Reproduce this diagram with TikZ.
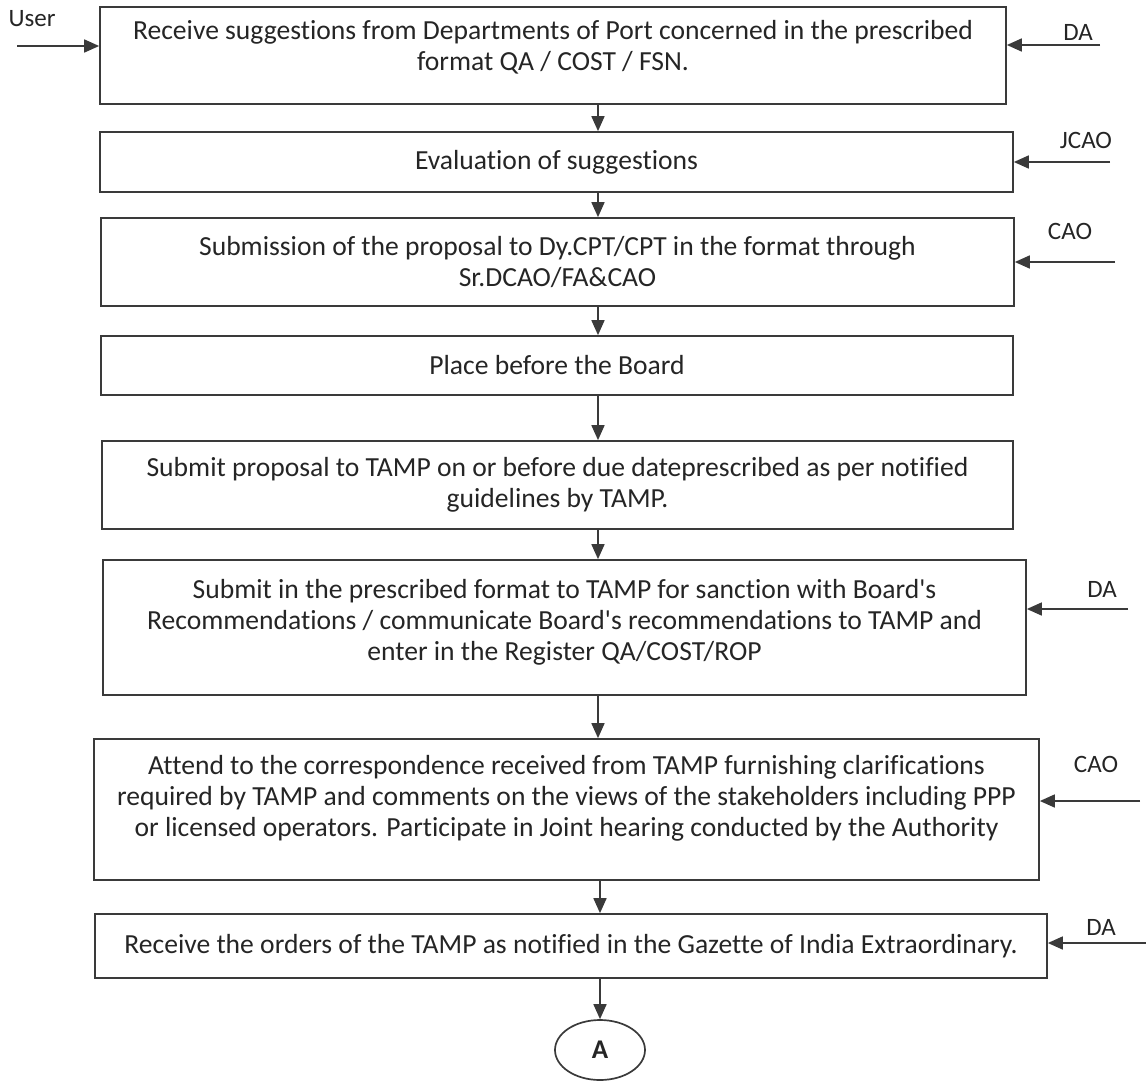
\documentclass[tikz,border=0pt]{standalone}
\usepackage{fontspec}
\setmainfont{Carlito}[Ligatures={TeX,NoCommon}]
\usetikzlibrary{shapes.geometric, arrows.meta}

\definecolor{boxgray}{HTML}{3A3A3A}
\definecolor{txtgray}{HTML}{252525}

% extra depth under the last line, pushes the text up in its box
\newcommand{\liftby}[1]{\rule[-#1]{0pt}{#1}}

\tikzset{
	stepbox/.style={draw=boxgray, line width=1.7pt, rectangle, align=center,
		inner sep=0pt, text=txtgray},
	flow/.style={draw=boxgray, line width=1.7pt, -{Triangle[length=15pt, width=13pt]}},
	who/.style={text=txtgray, font=\fontsize{25}{30}\selectfont},
}

\begin{document}
\begin{tikzpicture}[x=1pt, y=-1pt, font=\fontsize{27.6}{31}\selectfont]
	\def \ax {598}
	\useasboundingbox (0,0) rectangle (1146,1082);

	\node[stepbox, minimum width=906pt, minimum height=97pt] (receive) at (553,55.5)
		{Receive suggestions from Departments of Port concerned in the prescribed\\
		format QA / COST / FSN.\liftby{20pt}};
	\node[stepbox, minimum width=913pt, minimum height=60pt] (evaluate) at (556.5,162)
		{Evaluation of suggestions};
	\node[stepbox, minimum width=913pt, minimum height=88pt] (submission) at (557.5,262)
		{Submission of the proposal to Dy.CPT/CPT in the format through\\
		Sr.DCAO/FA\&CAO};
	\node[stepbox, minimum width=912pt, minimum height=59pt] (board) at (557,365.5)
		{Place before the Board};
	\node[stepbox, minimum width=911pt, minimum height=88pt] (proposal) at (557.5,485)
		{Submit proposal to TAMP on or before due dateprescribed as per notified\\
		guidelines by TAMP.};
	\node[stepbox, minimum width=923pt, minimum height=135pt] (sanction) at (564.5,627.5)
		{Submit in the prescribed format to TAMP for sanction with Board\textquotesingle s\\
		Recommendations / communicate Board\textquotesingle s recommendations to TAMP and\\
		enter in the Register QA/COST/ROP\liftby{16pt}};
	\node[stepbox, minimum width=945pt, minimum height=141pt] (attend) at (566.5,809.5)
		{Attend to the correspondence received from TAMP furnishing clarifications\\
		required by TAMP and comments on the views of the stakeholders including PPP\\
		or licensed operators. Participate in Joint hearing conducted by the Authority\liftby{28pt}};
	\node[stepbox, minimum width=952pt, minimum height=64pt] (orders) at (571,946)
		{Receive the orders of the TAMP as notified in the Gazette of India Extraordinary.};
	\node[draw=boxgray, line width=1.7pt, ellipse, minimum width=90pt, minimum height=60pt,
		text=txtgray, font=\bfseries\fontsize{27}{30}\selectfont] (connA) at (600,1050) {A};

	\coordinate (ax) at (\ax,0);
	\draw[flow] (receive.south -| ax) -- (evaluate.north -| ax);
	\draw[flow] (evaluate.south -| ax) -- (submission.north -| ax);
	\draw[flow] (submission.south -| ax) -- (board.north -| ax);
	\draw[flow] (board.south -| ax) -- (proposal.north -| ax);
	\draw[flow] (proposal.south -| ax) -- (sanction.north -| ax);
	\draw[flow] (sanction.south -| ax) -- (attend.north -| ax);
	\draw[flow] (attend.south -| connA) -- (orders.north -| connA);
	\draw[flow] (orders.south -| connA) -- (connA.north);

	% who feeds each step
	\coordinate (user) at (17,46);
	\draw[flow] (user) -- (user -| receive.west);
	\node[who] (userlbl) at (32,19) {User};

	\coordinate (da1) at (1100,45);
	\draw[flow] (da1) -- (da1 -| receive.east);
	\node[who] (da1lbl) at (1078,32) {DA};

	\coordinate (jcao) at (1110,162);
	\draw[flow] (jcao) -- (jcao -| evaluate.east);
	\node[who] (jcaolbl) at (1086,140) {JCAO};

	\coordinate (cao1) at (1115,262);
	\draw[flow] (cao1) -- (cao1 -| submission.east);
	\node[who] (cao1lbl) at (1070,231) {CAO};

	\coordinate (da2) at (1128,609);
	\draw[flow] (da2) -- (da2 -| sanction.east);
	\node[who] (da2lbl) at (1102,589) {DA};

	\coordinate (cao2) at (1140,801);
	\draw[flow] (cao2) -- (cao2 -| attend.east);
	\node[who] (cao2lbl) at (1096,764) {CAO};

	\coordinate (da3) at (1146,943);
	\draw[flow] (da3) -- (da3 -| orders.east);
	\node[who] (da3lbl) at (1101,927) {DA};
\end{tikzpicture}
\end{document}
